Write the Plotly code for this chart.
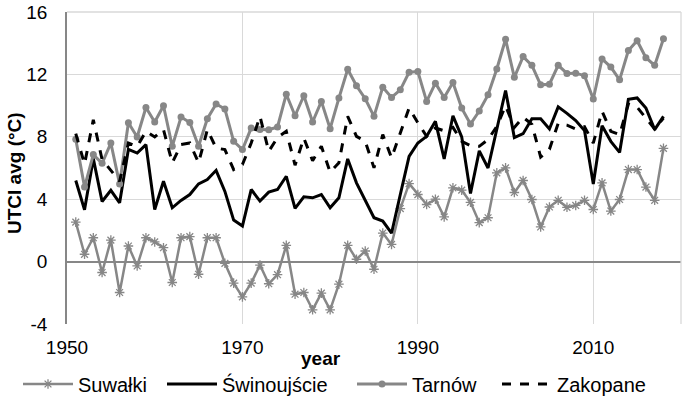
import plotly.graph_objects as go

years = list(range(1951, 2019))

suwalki = [2.53, 0.47, 1.53, -0.7, 1.38, -1.98, 1.0, -0.28, 1.53, 1.26,
           0.89, -1.34, 1.53, 1.6, -0.81, 1.53, 1.53, -0.11, -1.38, -2.26,
           -1.38, -0.22, -1.42, -0.84, 1.04, -2.09, -1.98, -3.09, -2.02, -3.09,
           -1.45, 1.04, 0.15, 0.68, -0.49, 1.83, 1.1, 3.4, 5.0, 4.3,
           3.66, 4.0, 2.87, 4.73, 4.58, 3.8, 2.5, 2.81, 5.69, 6.01,
           4.43, 5.2, 3.98, 2.22, 3.5, 3.93, 3.48, 3.6, 3.93, 3.34,
           5.05, 3.24, 3.98, 5.9, 5.9, 4.78, 3.93, 7.26]

swinoujscie = [5.2, 3.32, 6.6, 3.85, 4.57, 3.77, 7.2, 6.96, 7.5, 3.34,
               5.15, 3.45, 3.92, 4.3, 4.98, 5.26, 5.85, 4.5, 2.66, 2.28,
               4.62, 3.88, 4.45, 4.62, 5.47, 3.41, 4.15, 4.09, 4.3, 3.45,
               4.09, 6.58, 5.05, 3.98, 2.81, 2.6, 1.82, 4.3, 6.75, 7.6,
               8.03, 8.99, 6.58, 9.35, 8.0, 4.37, 7.1, 6.0, 8.5, 10.97,
               7.95, 8.2, 9.15, 9.15, 8.5, 9.92, 9.5, 9.04, 8.4, 4.98,
               8.71, 7.71, 7.0, 10.4, 10.49, 9.85, 8.46, 9.31]

tarnow = [7.84, 4.78, 6.86, 6.3, 7.6, 4.97, 8.9, 7.99, 9.88, 8.95,
          9.99, 7.39, 9.27, 8.92, 7.39, 9.16, 10.1, 9.78, 7.71, 7.18,
          8.56, 8.46, 8.45, 8.63, 10.73, 9.35, 10.63, 8.95, 10.27, 8.52,
          10.48, 12.33, 11.27, 10.44, 9.31, 11.18, 10.52, 11.01, 12.14, 12.18,
          10.27, 11.44, 10.52, 11.48, 9.84, 8.82, 9.65, 10.69, 12.35, 14.25,
          11.81, 13.14, 12.58, 11.33, 11.37, 12.58, 12.06, 12.08, 11.92, 10.42,
          12.99, 12.47, 11.65, 13.53, 14.16, 13.07, 12.58, 14.29]

zakopane = [8.2, 6.25, 9.09, 6.54, 5.85, 5.15, 7.6, 7.39, 8.35, 7.99,
            8.46, 6.33, 7.5, 7.6, 6.33, 8.46, 7.28, 7.18, 5.9, 6.22,
            7.6, 9.31, 7.07, 7.95, 8.35, 6.18, 7.92, 6.47, 7.39, 5.73,
            6.33, 9.31, 8.03, 7.71, 6.01, 8.14, 6.65, 8.24, 9.84, 8.9,
            8.03, 8.56, 8.39, 8.6, 7.71, 7.43, 7.39, 7.82, 8.67, 9.99,
            8.6, 9.25, 8.8, 6.7, 7.2, 8.86, 8.75, 8.5, 8.65, 7.6,
            9.63, 8.35, 8.14, 10.1, 9.9, 9.2, 8.5, 9.2]

y_ticks = [-4, 0, 4, 8, 12, 16]
y_tick_labels = ["-4", "0", "4", "8", "12", "16"]
x_ticks = [1950, 1970, 1990, 2010]
x_tick_labels = ["1950", "1970", "1990", "2010"]

GRAY = "#878787"
FONT = "Liberation Sans, Arial, sans-serif"

W, H = 685, 405

fig = go.Figure()
fig.add_trace(go.Scatter(x=years, y=suwalki, name="Suwałki", mode="lines+markers",
                         legend="legend",
                         line=dict(color=GRAY, width=2.5),
                         marker=dict(symbol="asterisk-open", size=8,
                                     line=dict(color=GRAY, width=1.3))))
fig.add_trace(go.Scatter(x=years, y=swinoujscie, name="Świnoujście", mode="lines",
                         legend="legend2",
                         line=dict(color="#000000", width=3)))
fig.add_trace(go.Scatter(x=years, y=tarnow, name="Tarnów", mode="lines+markers",
                         legend="legend3",
                         line=dict(color=GRAY, width=3),
                         marker=dict(symbol="circle", size=7, color=GRAY)))
fig.add_trace(go.Scatter(x=years, y=zakopane, name="Zakopane", mode="lines",
                         legend="legend4",
                         line=dict(color="#000000", width=3, dash="dash")))

def leg(xpx):
    return dict(orientation="h", xref="container", yref="container",
                x=xpx / W, xanchor="left", y=(H - 384) / H, yanchor="middle",
                font=dict(size=20), itemwidth=50, bgcolor="rgba(0,0,0,0)",
                borderwidth=0)

fig.update_layout(
    width=W, height=H,
    margin=dict(l=67, r=4, t=12, b=81, autoexpand=False),
    paper_bgcolor="white", plot_bgcolor="white",
    font=dict(family=FONT, size=19, color="#000000"),
    showlegend=True,
    legend=leg(18), legend2=leg(162), legend3=leg(352), legend4=leg(497),
    xaxis=dict(range=[1950, 2020], tickvals=x_ticks, ticktext=x_tick_labels,
               showgrid=True, automargin=False,
               gridcolor="#d9d9d9", gridwidth=1.3, zeroline=False,
               showline=False, ticks="", ticklabelstandoff=10,
               tickfont=dict(size=19)),
    yaxis=dict(range=[-4, 16], tickvals=y_ticks, ticktext=y_tick_labels,
               showgrid=True, automargin=False,
               gridcolor="#d9d9d9", gridwidth=1.3, zeroline=True,
               zerolinecolor=GRAY, zerolinewidth=1.5,
               showline=True, linecolor=GRAY, linewidth=1.5,
               ticks="", ticklabelstandoff=14, tickfont=dict(size=19)),
    shapes=[dict(type="line", xref="paper", yref="paper", x0=1, x1=1, y0=0, y1=1,
                 line=dict(color="#d9d9d9", width=1.3)),
            dict(type="line", xref="paper", yref="paper", x0=0, x1=1, y0=1, y1=1,
                 line=dict(color="#d9d9d9", width=1.3))],
    annotations=[
        dict(text="<b>year</b>", xref="paper", yref="paper", x=0.4137, y=-0.112,
             xanchor="center", yanchor="middle", showarrow=False,
             font=dict(size=19)),
        dict(text="<b>UTCI avg (°C)</b>", xref="paper", yref="paper", x=-0.0847, y=0.484,
             xanchor="center", yanchor="middle", textangle=-90, showarrow=False,
             font=dict(size=19)),
    ],
)

# remove the browser's default 8px page margin so the figure fills the window
fig.write_html("out.html", config={"displayModeBar": False},
               post_script="document.body.style.margin='0';")
